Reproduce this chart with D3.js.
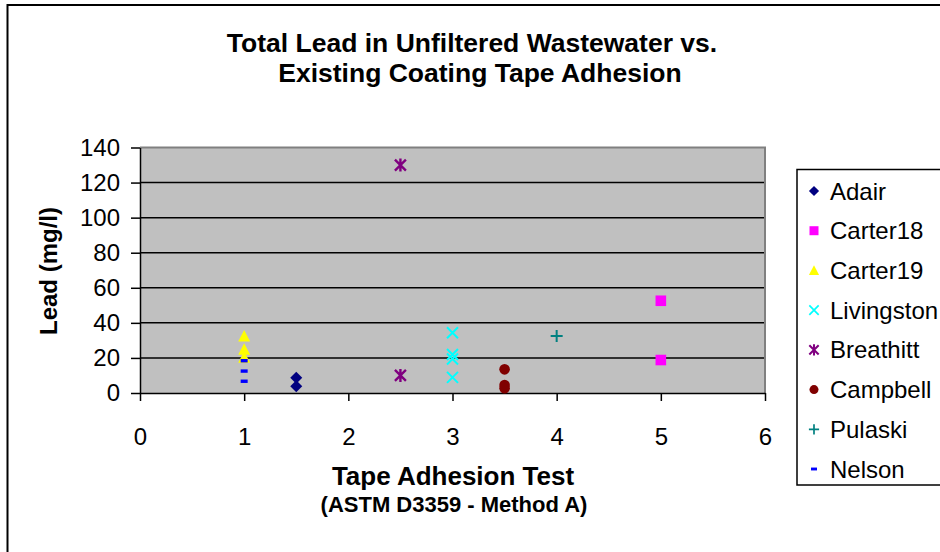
<!DOCTYPE html>
<html>
<head>
<meta charset="utf-8">
<script src="https://cdn.jsdelivr.net/npm/d3@7"></script>
<style>
  body { margin: 0; background: #fff; }
  svg { display: block; font-family: "Liberation Sans", Arial, sans-serif; }
</style>
</head>
<body>
<div id="chart"></div>
<script>
// series names, in legend order
const seriesNames = ["Adair", "Carter18", "Carter19", "Livingston", "Breathitt", "Campbell", "Pulaski", "Nelson"];
const seriesColors = ["#000080", "#ff00ff", "#ffff00", "#00ffff", "#800080", "#800000", "#008080", "#0000ff"];
const seriesShapes = ["diamond", "square", "triangle", "x", "star", "circle", "plus", "dash"];

// tape adhesion test (x) and lead mg/l (y) for each series
const adairX = [1.5, 1.5];
const adairY = [8.7, 3.8];
const carter18X = [5, 5];
const carter18Y = [52.6, 18.8];
const carter19X = [1, 1, 1];
const carter19Y = [32.5, 25, 20.4];
const livingstonX = [3, 3, 3, 3];
const livingstonY = [34.4, 22, 19.4, 8.9];
const breathittX = [2.5, 2.5];
const breathittY = [130, 10];
const campbellX = [3.5, 3.5, 3.5];
const campbellY = [13.5, 4.6, 2.7];
const pulaskiX = [4];
const pulaskiY = [32.5];
const nelsonX = [1, 1, 1];
const nelsonY = [18.4, 12.5, 6.7];

const xTicks = [0, 1, 2, 3, 4, 5, 6];
const yTicks = [0, 20, 40, 60, 80, 100, 120, 140];

const allX = [adairX, carter18X, carter19X, livingstonX, breathittX, campbellX, pulaskiX, nelsonX];
const allY = [adairY, carter18Y, carter19Y, livingstonY, breathittY, campbellY, pulaskiY, nelsonY];

const width = 940, height = 552;
const plot = { left: 140, right: 765, top: 147.5, bottom: 393 };

const svg = d3.select("#chart").append("svg")
    .attr("width", width)
    .attr("height", height);

// outer chart frame (runs off the right and bottom edge)
svg.append("rect")
    .attr("x", 7.5).attr("y", 5)
    .attr("width", 960).attr("height", 570)
    .attr("fill", "#fff")
    .attr("stroke", "#000")
    .attr("stroke-width", 2);

const x = d3.scaleLinear().domain([0, 6]).range([plot.left, plot.right]);
const y = d3.scaleLinear().domain([0, 140]).range([plot.bottom, plot.top]);

// plot area
svg.append("rect")
    .attr("x", plot.left).attr("y", plot.top)
    .attr("width", plot.right - plot.left)
    .attr("height", plot.bottom - plot.top)
    .attr("fill", "#c0c0c0");

// gridlines
svg.append("g")
  .selectAll("line")
  .data(yTicks.filter(d => d > 0 && d < 140))
  .join("line")
    .attr("x1", plot.left).attr("x2", plot.right)
    .attr("y1", d => y(d)).attr("y2", d => y(d))
    .attr("stroke", "#000")
    .attr("stroke-width", 1.5);

// top and right border of plot area
svg.append("path")
    .attr("d", `M${plot.left},${y(140)}H${x(6)}V${plot.bottom}`)
    .attr("fill", "none")
    .attr("stroke", "#808080")
    .attr("stroke-width", 2);

// axes
const yAxis = svg.append("g")
    .attr("transform", `translate(${plot.left},0)`)
    .call(d3.axisLeft(y).tickValues(yTicks).tickSize(9).tickPadding(11).tickSizeOuter(0));
const xAxis = svg.append("g")
    .attr("transform", `translate(0,${plot.bottom})`)
    .call(d3.axisBottom(x).tickValues(xTicks).tickFormat(d3.format("d"))
      .tickSize(8).tickPadding(27).tickSizeOuter(0));

[xAxis, yAxis].forEach(a => {
  a.select(".domain").attr("stroke", "#000").attr("stroke-width", 1.5);
  a.selectAll(".tick line").attr("stroke", "#000").attr("stroke-width", 1.5);
  a.selectAll(".tick text")
      .attr("fill", "#000")
      .style("font-size", "24px")
      .style("font-family", "'Liberation Sans', Arial, sans-serif");
});

// marker path builder, centered at 0,0
function markerPath(shape) {
  const p = d3.path();
  if (shape === "diamond") {
    p.moveTo(0, -6); p.lineTo(6, 0); p.lineTo(0, 6); p.lineTo(-6, 0); p.closePath();
  } else if (shape === "square") {
    p.rect(-5.3, -5.3, 10.6, 10.6);
  } else if (shape === "triangle") {
    p.moveTo(0, -6); p.lineTo(6, 5.5); p.lineTo(-6, 5.5); p.closePath();
  } else if (shape === "circle") {
    p.arc(0, 0, 5.3, 0, 2 * Math.PI);
  } else if (shape === "dash") {
    p.rect(-3.5, -1.7, 7, 3.4);
  } else if (shape === "x") {
    p.moveTo(-5.5, -5.5); p.lineTo(5.5, 5.5); p.moveTo(5.5, -5.5); p.lineTo(-5.5, 5.5);
  } else if (shape === "star") {
    p.moveTo(-5.5, -5.5); p.lineTo(5.5, 5.5); p.moveTo(5.5, -5.5); p.lineTo(-5.5, 5.5);
    p.moveTo(0, -6.5); p.lineTo(0, 6.5);
  } else if (shape === "plus") {
    p.moveTo(-6, 0); p.lineTo(6, 0); p.moveTo(0, -6); p.lineTo(0, 6);
  }
  return p.toString();
}

function drawMarker(sel, shape, color) {
  const stroked = shape === "x" || shape === "star" || shape === "plus";
  sel.attr("d", markerPath(shape))
    .attr("fill", stroked ? "none" : color)
    .attr("stroke", stroked ? color : "none")
    .attr("stroke-width", stroked ? (shape === "star" ? 2.4 : 2) : 0);
}

// points
seriesNames.forEach((name, i) => {
  const pts = allX[i].map((v, j) => ({ x: v, y: allY[i][j] }));
  svg.append("g")
    .selectAll("path")
    .data(pts)
    .join("path")
      .attr("transform", d => `translate(${x(d.x)},${y(d.y)})`)
      .call(drawMarker, seriesShapes[i], seriesColors[i]);
});

// title
const title = svg.append("text")
    .attr("text-anchor", "middle")
    .attr("font-weight", "bold")
    .style("font-size", "26.5px");
title.append("tspan").attr("x", 472).attr("y", 52).text("Total Lead in Unfiltered Wastewater vs.");
title.append("tspan").attr("x", 480).attr("y", 82).text("Existing Coating Tape Adhesion");

// axis titles
svg.append("text")
    .attr("transform", "translate(57,271) rotate(-90)")
    .attr("text-anchor", "middle")
    .attr("font-weight", "bold")
    .style("font-size", "24px")
    .text("Lead (mg/l)");

svg.append("text")
    .attr("x", 453).attr("y", 485)
    .attr("text-anchor", "middle")
    .attr("font-weight", "bold")
    .style("font-size", "26px")
    .text("Tape Adhesion Test");

svg.append("text")
    .attr("x", 454).attr("y", 512)
    .attr("text-anchor", "middle")
    .attr("font-weight", "bold")
    .style("font-size", "22px")
    .text("(ASTM D3359 - Method A)");

// legend
const legend = svg.append("g");
legend.append("rect")
    .attr("x", 797).attr("y", 169.5)
    .attr("width", 170).attr("height", 315.5)
    .attr("fill", "#fff")
    .attr("stroke", "#000")
    .attr("stroke-width", 1.5);

const ly = d3.scalePoint().domain(seriesNames).range([191, 469]);
const item = legend.selectAll("g.item")
  .data(seriesNames)
  .join("g")
    .attr("class", "item")
    .attr("transform", d => `translate(814,${ly(d)})`);

item.append("path")
    .each(function(d, i) {
      d3.select(this).attr("transform", "scale(0.85)").call(drawMarker, seriesShapes[i], seriesColors[i]);
    });

item.append("text")
    .attr("x", 16)
    .attr("dy", "0.36em")
    .style("font-size", "24px")
    .text(d => d);
</script>
</body>
</html>
